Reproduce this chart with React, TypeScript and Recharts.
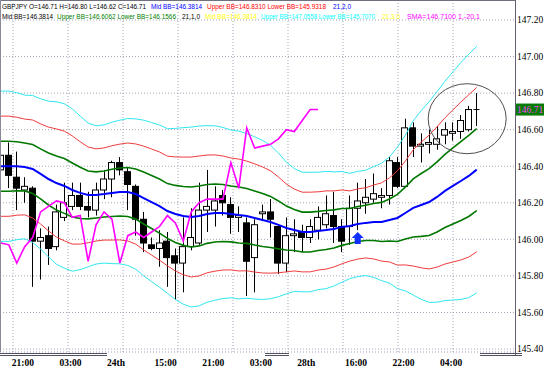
import React from 'react'
import {
  ComposedChart,
  Bar,
  Line,
  XAxis,
  YAxis,
  CartesianGrid,
  ReferenceDot,
  ReferenceLine
} from 'recharts'

// GBPJPY candles, oldest first
const openPrices = [
  146.38, 146.46, 146.34, 146.27, 146.28, 145.99, 146.02, 145.96, 146.12, 146.18,
  146.24, 146.18, 146.16, 146.27, 146.33, 146.42, 146.37, 146.29, 146.11, 145.97,
  145.95, 145.99, 145.91, 145.87, 145.96, 145.98, 146.16, 146.16, 146.24, 146.19,
  146.12, 146.09, 145.90, 146.14, 146.15, 146.07, 145.87, 146.02, 146.04, 146.01,
  146.05, 146.08, 146.13, 146.07, 146.07, 146.17, 146.20, 146.22, 146.23, 146.24,
  146.42, 146.29, 146.61, 146.51, 146.52, 146.52, 146.57, 146.58, 146.59, 146.60,
  146.71
]
const highPrices = [
  146.53, 146.53, 146.48, 146.34, 146.29, 146.06, 146.07, 146.19, 146.31, 146.31,
  146.31, 146.26, 146.31, 146.38, 146.43, 146.45, 146.39, 146.30, 146.15, 146.01,
  146.05, 146.04, 145.95, 146.12, 146.17, 146.31, 146.38, 146.29, 146.27, 146.23,
  146.18, 146.12, 146.11, 146.19, 146.22, 146.08, 146.12, 146.11, 146.08, 146.11,
  146.18, 146.24, 146.26, 146.11, 146.24, 146.31, 146.33, 146.36, 146.28, 146.45,
  146.45, 146.66, 146.64, 146.58, 146.60, 146.62, 146.64, 146.64, 146.68, 146.73,
  146.80
]
const lowPrices = [
  146.29, 146.28, 146.16, 146.20, 145.74, 145.78, 145.86, 145.94, 146.10, 146.16,
  146.16, 146.12, 146.13, 146.22, 146.23, 146.35, 146.16, 146.02, 145.93, 145.94,
  145.85, 145.74, 145.67, 145.71, 145.94, 145.97, 146.04, 146.07, 146.13, 146.03,
  146.04, 145.69, 145.71, 146.10, 146.01, 145.81, 145.82, 145.93, 145.93, 145.98,
  146.00, 146.06, 145.98, 145.93, 145.97, 146.05, 146.14, 146.20, 146.17, 146.19,
  146.28, 146.29, 146.45, 146.42, 146.47, 146.49, 146.52, 146.54, 146.55, 146.59,
  146.62
]
const closePrices = [
  146.46, 146.35, 146.28, 146.29, 145.99, 146.01, 145.95, 146.15, 146.20, 146.24,
  146.18, 146.16, 146.27, 146.33, 146.42, 146.38, 146.30, 146.11, 145.98, 145.95,
  145.98, 145.90, 145.87, 145.96, 146.01, 146.16, 146.18, 146.21, 146.20, 146.12,
  146.13, 145.88, 146.08, 146.15, 146.11, 145.87, 146.02, 146.03, 146.01, 146.07,
  146.12, 146.14, 146.07, 145.99, 146.17, 146.21, 146.23, 146.25, 146.24, 146.43,
  146.29, 146.61, 146.51, 146.52, 146.53, 146.55, 146.60, 146.59, 146.65, 146.71,
  146.71
]

const bbMid = [
  146.40, 146.40, 146.40, 146.396, 146.385, 146.358, 146.33, 146.308, 146.292, 146.27,
  146.254, 146.243, 146.243, 146.248, 146.254, 146.259, 146.259, 146.248, 146.226, 146.204,
  146.182, 146.155, 146.139, 146.128, 146.122, 146.128, 146.139, 146.144, 146.144, 146.139,
  146.133, 146.128, 146.117, 146.106, 146.095, 146.079, 146.062, 146.051, 146.04, 146.04,
  146.046, 146.051, 146.057, 146.068, 146.073, 146.084, 146.09, 146.095, 146.095, 146.106,
  146.117, 146.144, 146.172, 146.188, 146.204, 146.232, 146.265, 146.292, 146.319, 146.347,
  146.3814
]
const bbDev = [
  0.137, 0.137, 0.134, 0.131, 0.134, 0.137, 0.142, 0.148, 0.150, 0.148,
  0.140, 0.131, 0.126, 0.126, 0.129, 0.131, 0.134, 0.137, 0.142, 0.145,
  0.148, 0.150, 0.156, 0.161, 0.164, 0.164, 0.161, 0.159, 0.156, 0.153,
  0.153, 0.150, 0.148, 0.145, 0.140, 0.131, 0.120, 0.112, 0.109, 0.109,
  0.107, 0.107, 0.104, 0.101, 0.096, 0.096, 0.096, 0.101, 0.107, 0.115,
  0.129, 0.142, 0.159, 0.172, 0.183, 0.192, 0.200, 0.208, 0.216, 0.222,
  0.2248
]

// SMA 1, shift -20 (lagging close)
const laggingSpan = [
  145.98, 145.97, 145.87, 145.96, 146.01, 146.15, 146.18, 146.21, 146.20, 146.12,
  146.13, 145.88, 146.08, 146.15, 146.11, 145.87, 146.02, 146.04, 146.01, 146.04,
  146.07, 146.13, 146.09, 145.99, 146.15, 146.20, 146.22, 146.22, 146.22, 146.42,
  146.28, 146.61, 146.50, 146.51, 146.52, 146.55, 146.60, 146.59, 146.65, 146.71,
  146.71
]

const timeLabelBars = [1, 7, 13, 19, 25, 31, 37, 43, 49, 55]
const timeLabels = ['21:00', '03:00', '24th', '15:00', '21:00', '03:00', '28th', '16:00', '22:00', '04:00']
const priceTicks = [145.4, 145.6, 145.8, 146.0, 146.2, 146.4, 146.6, 146.8, 147.0, 147.2]
const lastPrice = 146.71
const signalArrows = [{ bar: 45, price: 146.04 }]
const circleMark = { bar: 58.8, price: 146.66 }

const chartData = openPrices.map((open, i) => ({
  i,
  open,
  high: highPrices[i],
  low: lowPrices[i],
  close: closePrices[i],
  mid: bbMid[i],
  up1: bbMid[i] + bbDev[i],
  lo1: bbMid[i] - bbDev[i],
  up2: bbMid[i] + 2 * bbDev[i],
  lo2: bbMid[i] - 2 * bbDev[i],
  up3: bbMid[i] + 3 * bbDev[i],
  lo3: bbMid[i] - 3 * bbDev[i],
  lag: i < laggingSpan.length ? laggingSpan[i] : null
}))

const headerRows = [
  {
    y: 8.7,
    parts: [
      { text: 'GBPJPY O=146.71 H=146.80 L=146.62 C=146.71', color: '#000000', x: 2, w: 144 },
      { text: 'Mid BB=146.3814', color: '#0000ff', x: 151, w: 51 },
      { text: 'Upper BB=146.8310 Lower BB=145.9318', color: '#ff0000', x: 207, w: 119 },
      { text: '21,2,0', color: '#0000ff', x: 333, w: 18 }
    ]
  },
  {
    y: 18.7,
    parts: [
      { text: 'Mid BB=146.3814', color: '#000000', x: 2, w: 51 },
      { text: 'Upper BB=146.6062 Lower BB=146.1566', color: '#008000', x: 57, w: 119 },
      { text: '21,1,0', color: '#000000', x: 182, w: 18 },
      { text: 'Mid BB=146.3814', color: '#ffff00', x: 205, w: 52 },
      { text: 'Upper BB=147.0558 Lower BB=145.7070', color: '#00ffff', x: 261, w: 114 },
      { text: '21,3,0', color: '#ffff00', x: 382, w: 18 },
      { text: 'SMA=146.7100 1,-20,1', color: '#ff00ff', x: 407, w: 73 }
    ]
  }
]

const AXIS_FONT = '"Liberation Serif", "DejaVu Serif", serif'

function Candle(props: any) {
  const { x, y, width, height, payload } = props
  if (!payload || height == null) return null
  const top = Math.min(y, y + height)
  const span = Math.abs(height)
  const { open, close, high, low } = payload
  const toY = (p: number) => top + (high === low ? 0 : ((high - p) / (high - low)) * span)
  const cx = Math.round(x + width / 2) + 0.5
  const bodyTop = toY(Math.max(open, close))
  const bodyBottom = toY(Math.min(open, close))
  const bull = close >= open
  const left = Math.round(x) + 0.5
  return (
    <g>
      <line x1={cx} x2={cx} y1={top} y2={top + span} stroke="#000" strokeWidth={1} />
      {bodyBottom - bodyTop < 1 ? (
        <line x1={left} x2={left + width - 1} y1={bodyTop} y2={bodyTop} stroke="#000" strokeWidth={1} />
      ) : (
        <rect
          x={left}
          y={bodyTop}
          width={width - 1}
          height={bodyBottom - bodyTop}
          fill={bull ? '#ffffff' : '#000000'}
          stroke="#000"
          strokeWidth={1}
        />
      )}
    </g>
  )
}

function TimeTick(props: any) {
  const { x, y, payload } = props
  const idx = timeLabelBars.indexOf(payload.value)
  if (idx < 0) return null
  return (
    <text x={x + 3} y={y + 14} fontFamily={AXIS_FONT} fontSize={9.5} fontWeight="bold" fill="#000">
      {timeLabels[idx]}
    </text>
  )
}

function PriceTick(props: any) {
  const { x, y, payload } = props
  return (
    <text x={x} y={y} dy="0.35em" fontFamily={AXIS_FONT} fontSize={9.5} fill="#000" textAnchor="start">
      {payload.value.toFixed(2)}
    </text>
  )
}

function UpArrow(props: any) {
  const { cx, cy } = props
  const pts = [
    [cx, cy],
    [cx + 6, cy + 6],
    [cx + 3, cy + 6],
    [cx + 3, cy + 12],
    [cx - 3, cy + 12],
    [cx - 3, cy + 6],
    [cx - 6, cy + 6]
  ]
  return <polygon points={pts.map((p) => p.join(',')).join(' ')} fill="#1030ff" />
}

function CircleNote(props: any) {
  const { cx, cy } = props
  return <ellipse cx={cx} cy={cy} rx={39} ry={35} fill="none" stroke="#505050" strokeWidth={1} />
}

function PriceTag(props: any) {
  const { viewBox } = props
  if (!viewBox) return null
  const x = viewBox.x + viewBox.width + 1
  const y = viewBox.y
  return (
    <g>
      <rect x={x} y={y - 6} width={28} height={12} fill="#007a00" />
      <text x={x + 1} y={y} dy="0.35em" fontFamily={AXIS_FONT} fontSize={9.5} fill="#ff40ff">
        {lastPrice.toFixed(2)}
      </text>
    </g>
  )
}

const lineCommon = {
  type: 'linear' as const,
  dot: false,
  activeDot: false,
  legendType: 'none' as const,
  isAnimationActive: false
}

export default function App() {
  return (
    <div style={{ position: 'absolute', left: 0, top: 0, width: 549, height: 368, background: '#fff' }}>
      <ComposedChart
        width={549}
        height={368}
        data={chartData}
        margin={{ top: 0, right: 0, bottom: 0, left: 0 }}
      >
        <CartesianGrid
          stroke="#a4a4b8"
          strokeDasharray="1 2"
          verticalPoints={[13, 68, 123, 178, 233, 288, 343, 398, 453]}
        />
        <XAxis
          type="number"
          dataKey="i"
          domain={[-0.1135, 64.83]}
          allowDataOverflow
          ticks={timeLabelBars}
          tick={<TimeTick />}
          tickLine={false}
          axisLine={false}
          tickSize={0}
          tickMargin={0}
          height={16}
          interval={0}
        />
        <YAxis
          type="number"
          orientation="right"
          domain={[145.3836, 147.3094]}
          allowDataOverflow
          ticks={priceTicks}
          tick={<PriceTick />}
          tickLine={false}
          axisLine={false}
          tickSize={0}
          tickMargin={2}
          width={34}
          interval={0}
        />
        <Bar
          dataKey={(d: any) => [d.low, d.high]}
          barSize={7}
          shape={<Candle />}
          isAnimationActive={false}
        />
        <Line {...lineCommon} dataKey="up3" stroke="#30e8f0" strokeWidth={1} />
        <Line {...lineCommon} dataKey="lo3" stroke="#30e8f0" strokeWidth={1} />
        <Line {...lineCommon} dataKey="up2" stroke="#f03c3c" strokeWidth={1} />
        <Line {...lineCommon} dataKey="lo2" stroke="#f03c3c" strokeWidth={1} />
        <Line {...lineCommon} dataKey="up1" stroke="#007800" strokeWidth={1.6} />
        <Line {...lineCommon} dataKey="lo1" stroke="#007800" strokeWidth={1.6} />
        <Line {...lineCommon} dataKey="mid" stroke="#0000ff" strokeWidth={2} />
        <Line {...lineCommon} dataKey="lag" stroke="#ff00ff" strokeWidth={1.6} />
        {signalArrows.map((a) => (
          <ReferenceDot key={a.bar} x={a.bar} y={a.price} shape={<UpArrow />} />
        ))}
        <ReferenceDot x={circleMark.bar} y={circleMark.price} shape={<CircleNote />} />
        <ReferenceLine y={lastPrice} stroke="#000" strokeOpacity={0} label={<PriceTag />} />
      </ComposedChart>
      <svg
        width={549}
        height={368}
        style={{ position: 'absolute', left: 0, top: 0, pointerEvents: 'none' }}
      >
        <line x1={0} x2={516} y1={0.5} y2={0.5} stroke="#707080" />
        <line x1={0.5} x2={0.5} y1={0} y2={352} stroke="#8a8a9a" />
        <line x1={515.5} x2={515.5} y1={0} y2={356} stroke="#606070" />
        {[[0, 107], [265, 289], [480, 522]].map(([a, b]) => (
          <g key={a}>
            <line x1={a} x2={b} y1={353.5} y2={353.5} stroke="#505060" />
            <line x1={a} x2={b} y1={355.5} y2={355.5} stroke="#505060" />
          </g>
        ))}
        {headerRows.map((row, r) =>
          row.parts.map((p, k) => (
            <text
              key={`${r}-${k}`}
              x={p.x}
              y={row.y}
              fontFamily='"Liberation Sans", Arial, sans-serif'
              fontSize={6.4}
              fill={p.color}
              textLength={p.w}
              lengthAdjust="spacingAndGlyphs"
            >
              {p.text}
            </text>
          ))
        )}
      </svg>
    </div>
  )
}
